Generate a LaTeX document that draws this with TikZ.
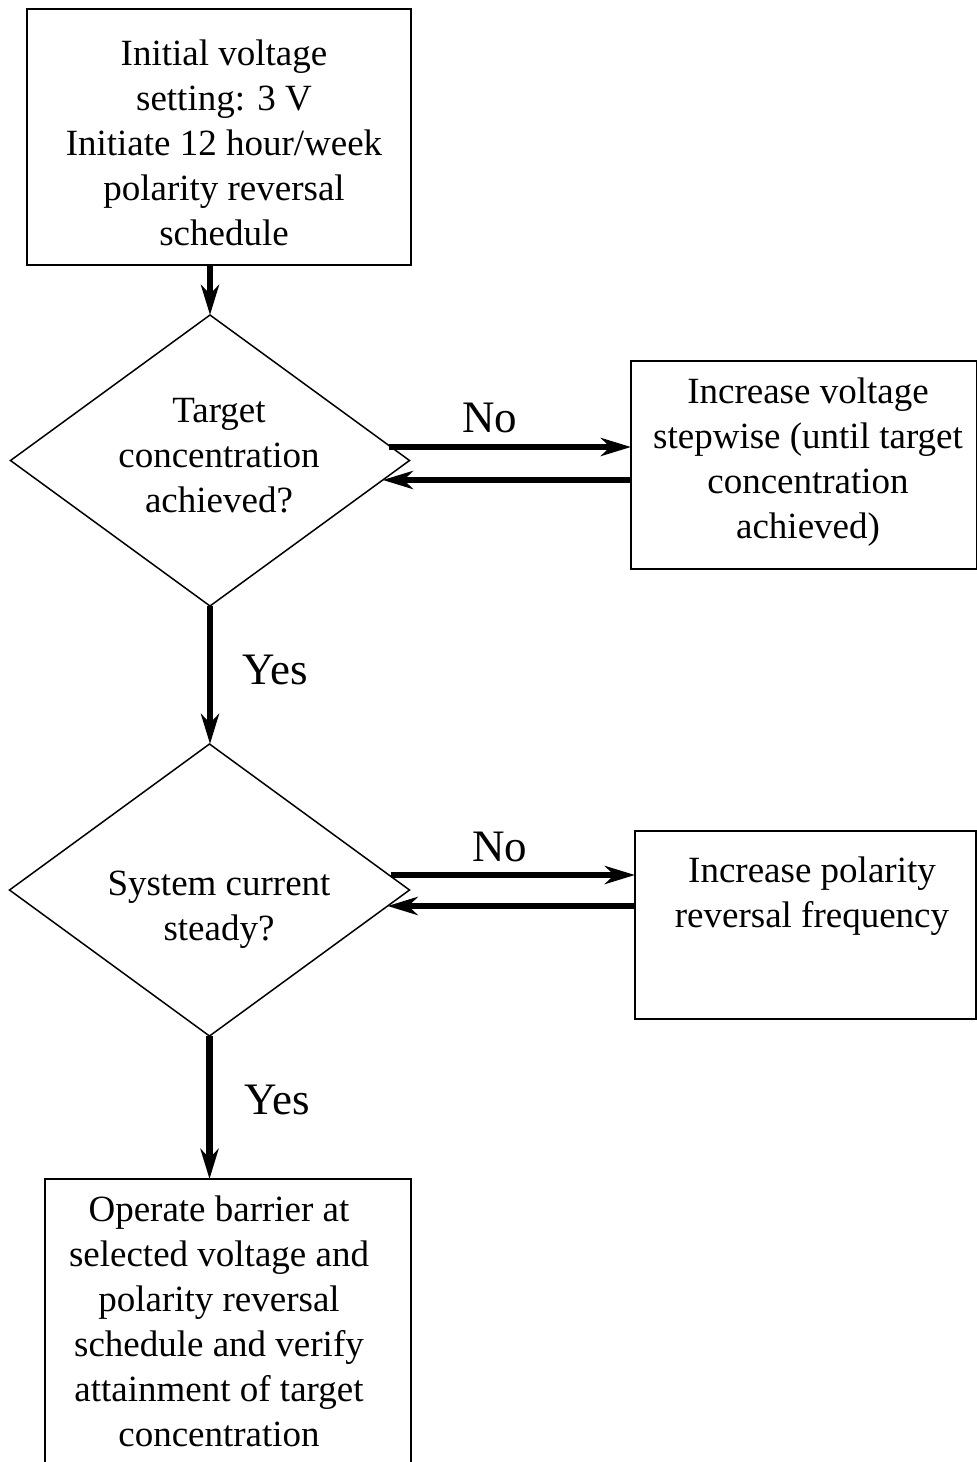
\documentclass[tikz,border=0pt]{standalone}
\usepackage{fontspec}
\setmainfont{Liberation Serif}
\usetikzlibrary{shapes.geometric,arrows.meta,calc}
\begin{document}
\begin{tikzpicture}[x=1pt,y=-1pt,
  box/.style={draw, line width=2.5pt, inner sep=0pt, outer sep=0pt},
  decision/.style={draw, diamond, line width=1.5pt, inner sep=0pt, outer sep=0pt},
  txt/.style={align=center, inner sep=0pt, font=\fontsize{37}{45}\selectfont},
  lbl/.style={inner sep=0pt, font=\fontsize{45}{54}\selectfont},
  arr/.style={line width=6.5pt, -{Stealth[length=30pt,width=18pt,inset=9pt]}}
]
\useasboundingbox (0,0) rectangle (977,1462);

% process boxes and decisions
\node[box, minimum width=384pt, minimum height=256pt] (b1) at (219,137) {};
\node[txt] (t1) at (224,143) {Initial voltage\\setting: 3 V\\Initiate 12 hour/week\\polarity reversal\\schedule};

\node[decision, minimum width=399pt, minimum height=291pt] (d1) at (210,460.5) {};
\node[txt] (td1) at (219,456) {Target\\concentration\\achieved?};

\node[box, minimum width=346pt, minimum height=208pt] (b2) at (804,465) {};
\node[txt] (t2) at (808,462) {Increase voltage\\stepwise (until target\\concentration\\achieved)};

\node[decision, minimum width=400pt, minimum height=292pt] (d2) at (209.5,890) {};
\node[txt] (td2) at (219,910) {System current\\steady?};

\node[box, minimum width=341pt, minimum height=188pt] (b3) at (805.5,925) {};
\node[txt] (t3) at (812,896) {Increase polarity\\reversal frequency};

\node[box, minimum width=366pt, minimum height=286pt] (b4) at (228,1322) {};
\node[txt] (t4) at (219,1321) {Operate barrier at\\selected voltage and\\polarity reversal\\schedule and verify\\attainment of target\\concentration};

% branch labels
\node[lbl] (no1) at (489.5,417.5) {No};
\node[lbl] (no2) at (500,847) {No};
\node[lbl] (yes1) at (275,670) {Yes};
\node[lbl] (yes2) at (277,1100) {Yes};

% attachment points on the right-hand corners of the decisions
\coordinate (d1out) at ($(d1.east)+(-21,-13.5)$);
\coordinate (d1in)  at ($(d1.east)+(-26.7,19.5)$);
\coordinate (d2out) at ($(d2.east)+(-19,-15)$);
\coordinate (d2in)  at ($(d2.east)+(-22,16)$);

% connectors
\draw[arr] (d1.north |- b1.south) -- (d1.north);
\draw[arr] (d1out) -- (d1out -| b2.west);
\draw[arr] (d1in -| b2.west) -- (d1in);
\draw[arr] (d1.south) -- (d1.south |- d2.north);
\draw[arr] (d2out) -- (d2out -| b3.west);
\draw[arr] (d2in -| b3.west) -- (d2in);
\draw[arr] (d2.south) -- (d2.south |- b4.north);
\end{tikzpicture}
\end{document}
